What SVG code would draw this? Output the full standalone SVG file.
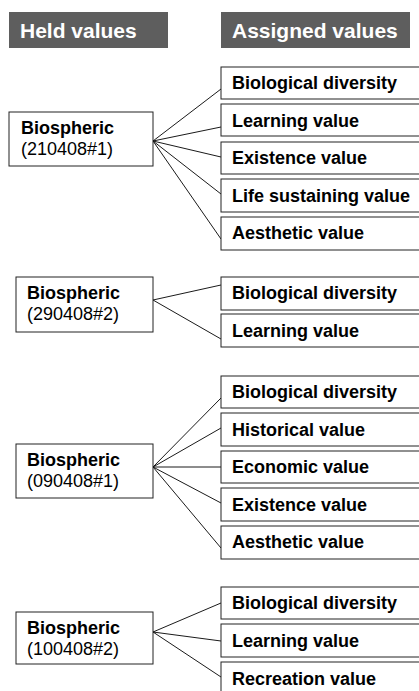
<svg xmlns="http://www.w3.org/2000/svg" width="419" height="691" viewBox="0 0 419 691">
<style>
.hdr{fill:#5e5e5e}
.ht{font-family:"Liberation Sans",Arial,sans-serif;font-weight:bold;font-size:21px;fill:#fff}
.box{fill:#fff;stroke:#222;stroke-width:1}
.t{font-family:"Liberation Sans",Arial,sans-serif;font-weight:bold;font-size:18px;fill:#000}
.r{font-family:"Liberation Sans",Arial,sans-serif;font-size:18px;fill:#000}
.c{stroke:#000;stroke-width:0.9;fill:none}
</style>
<rect width="419" height="691" fill="#fff"/>
<g id="hdr-held"><rect class="hdr" x="9" y="12" width="159" height="36"/><text class="ht" x="20" y="38">Held values</text></g>
<g id="hdr-assigned"><rect class="hdr" x="221" y="12" width="189" height="36"/><text class="ht" x="232" y="38">Assigned values</text></g>
<g id="connectors">
<path class="c" d="M153,141L221,89M153,141L221,127M153,141L221,157M153,141L221,194M153,141L221,239"/>
<path class="c" d="M153,300L221,285M153,300L221,339"/>
<path class="c" d="M153,467L221,398M153,467L221,428M153,467L221,467M153,467L221,503M153,467L221,548"/>
<path class="c" d="M153,632L221,603M153,632L221,641M153,632L221,677"/>
</g>
<g id="g1-held"><rect class="box" x="9" y="112" width="144" height="54"/><text class="t" x="21" y="134">Biospheric</text><text class="r" x="21" y="155">(210408#1)</text></g>
<g id="g1-a1"><rect class="box" x="221" y="67" width="220" height="32"/><text class="t" x="232" y="89">Biological diversity</text></g>
<g id="g1-a2"><rect class="box" x="221" y="104" width="220" height="32"/><text class="t" x="232" y="127">Learning value</text></g>
<g id="g1-a3"><rect class="box" x="221" y="142" width="220" height="32"/><text class="t" x="232" y="164">Existence value</text></g>
<g id="g1-a4"><rect class="box" x="221" y="179" width="220" height="33"/><text class="t" x="232" y="202">Life sustaining value</text></g>
<g id="g1-a5"><rect class="box" x="221" y="217" width="220" height="33"/><text class="t" x="232" y="239">Aesthetic value</text></g>

<g id="g2-held"><rect class="box" x="16" y="277" width="137" height="55"/><text class="t" x="27" y="299">Biospheric</text><text class="r" x="27" y="320">(290408#2)</text></g>
<g id="g2-a1"><rect class="box" x="221" y="277" width="220" height="33"/><text class="t" x="232" y="299">Biological diversity</text></g>
<g id="g2-a2"><rect class="box" x="221" y="314" width="220" height="33"/><text class="t" x="232" y="337">Learning value</text></g>

<g id="g3-held"><rect class="box" x="16" y="444" width="137" height="54"/><text class="t" x="27" y="466">Biospheric</text><text class="r" x="27" y="487">(090408#1)</text></g>
<g id="g3-a1"><rect class="box" x="221" y="376" width="220" height="32"/><text class="t" x="232" y="398">Biological diversity</text></g>
<g id="g3-a2"><rect class="box" x="221" y="413" width="220" height="33"/><text class="t" x="232" y="436">Historical value</text></g>
<g id="g3-a3"><rect class="box" x="221" y="451" width="220" height="32"/><text class="t" x="232" y="473">Economic value</text></g>
<g id="g3-a4"><rect class="box" x="221" y="488" width="220" height="33"/><text class="t" x="232" y="511">Existence value</text></g>
<g id="g3-a5"><rect class="box" x="221" y="526" width="220" height="33"/><text class="t" x="232" y="548">Aesthetic value</text></g>

<g id="g4-held"><rect class="box" x="16" y="612" width="137" height="52"/><text class="t" x="27" y="634">Biospheric</text><text class="r" x="27" y="655">(100408#2)</text></g>
<g id="g4-a1"><rect class="box" x="221" y="587" width="220" height="32"/><text class="t" x="232" y="609">Biological diversity</text></g>
<g id="g4-a2"><rect class="box" x="221" y="624" width="220" height="33"/><text class="t" x="232" y="647">Learning value</text></g>
<g id="g4-a3"><rect class="box" x="221" y="662" width="220" height="33"/><text class="t" x="232" y="685">Recreation value</text></g>
</svg>
